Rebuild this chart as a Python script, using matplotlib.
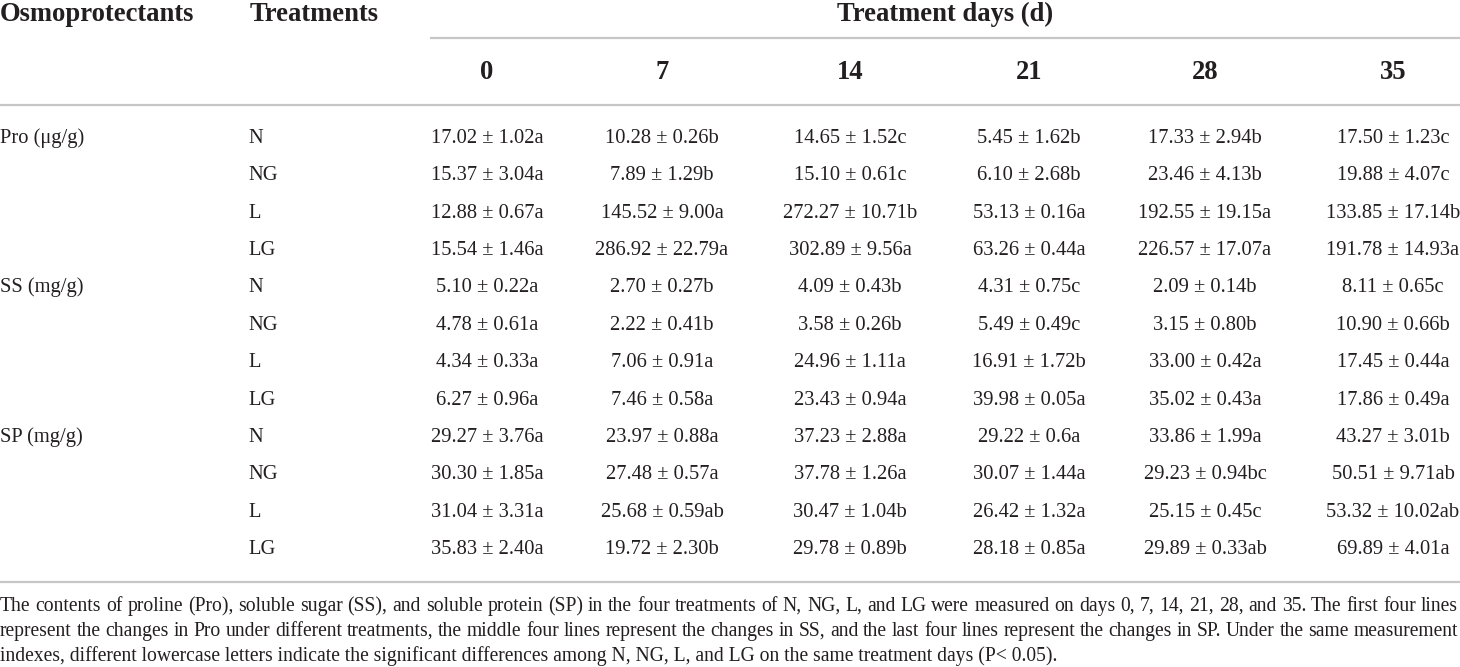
import matplotlib
matplotlib.use("Agg")
import matplotlib.pyplot as plt

# table content
osmoprotectants = ["Pro (μg/g)", "SS (mg/g)", "SP (mg/g)"]
treatments = ["N", "NG", "L", "LG"]
days = ["0", "7", "14", "21", "28", "35"]

pro_rows = [
    ["17.02 ± 1.02a", "10.28 ± 0.26b", "14.65 ± 1.52c", "5.45 ± 1.62b", "17.33 ± 2.94b", "17.50 ± 1.23c"],
    ["15.37 ± 3.04a", "7.89 ± 1.29b", "15.10 ± 0.61c", "6.10 ± 2.68b", "23.46 ± 4.13b", "19.88 ± 4.07c"],
    ["12.88 ± 0.67a", "145.52 ± 9.00a", "272.27 ± 10.71b", "53.13 ± 0.16a", "192.55 ± 19.15a", "133.85 ± 17.14b"],
    ["15.54 ± 1.46a", "286.92 ± 22.79a", "302.89 ± 9.56a", "63.26 ± 0.44a", "226.57 ± 17.07a", "191.78 ± 14.93a"],
]
ss_rows = [
    ["5.10 ± 0.22a", "2.70 ± 0.27b", "4.09 ± 0.43b", "4.31 ± 0.75c", "2.09 ± 0.14b", "8.11 ± 0.65c"],
    ["4.78 ± 0.61a", "2.22 ± 0.41b", "3.58 ± 0.26b", "5.49 ± 0.49c", "3.15 ± 0.80b", "10.90 ± 0.66b"],
    ["4.34 ± 0.33a", "7.06 ± 0.91a", "24.96 ± 1.11a", "16.91 ± 1.72b", "33.00 ± 0.42a", "17.45 ± 0.44a"],
    ["6.27 ± 0.96a", "7.46 ± 0.58a", "23.43 ± 0.94a", "39.98 ± 0.05a", "35.02 ± 0.43a", "17.86 ± 0.49a"],
]
sp_rows = [
    ["29.27 ± 3.76a", "23.97 ± 0.88a", "37.23 ± 2.88a", "29.22 ± 0.6a", "33.86 ± 1.99a", "43.27 ± 3.01b"],
    ["30.30 ± 1.85a", "27.48 ± 0.57a", "37.78 ± 1.26a", "30.07 ± 1.44a", "29.23 ± 0.94bc", "50.51 ± 9.71ab"],
    ["31.04 ± 3.31a", "25.68 ± 0.59ab", "30.47 ± 1.04b", "26.42 ± 1.32a", "25.15 ± 0.45c", "53.32 ± 10.02ab"],
    ["35.83 ± 2.40a", "19.72 ± 2.30b", "29.78 ± 0.89b", "28.18 ± 0.85a", "29.89 ± 0.33ab", "69.89 ± 4.01a"],
]

footnote = [
    "The contents of proline (Pro), soluble sugar (SS), and soluble protein (SP) in the four treatments of N, NG, L, and LG were measured on days 0, 7, 14, 21, 28, and 35. The first four lines",
    "represent the changes in Pro under different treatments, the middle four lines represent the changes in SS, and the last four lines represent the changes in SP. Under the same measurement",
    "indexes, different lowercase letters indicate the significant differences among N, NG, L, and LG on the same treatment days (P< 0.05).",
]

W, H = 1460, 667
plt.rcParams['font.family'] = ['Liberation Serif', 'DejaVu Serif']
ink = '#231f20'
rule = '#c6c6c6'

fig = plt.figure(figsize=(W / 100, H / 100), dpi=100)
ax = fig.add_axes([0, 0, 1, 1])
ax.set_xlim(0, W)
ax.set_ylim(H, 0)
ax.axis('off')

col_x = [487, 662, 850, 1029, 1205, 1393]
hdr_size, cell_size, note_size = 19.2, 14.8, 14.1

# header
hdr = dict(fontsize=hdr_size, fontweight='bold', color=ink, va='baseline')
ax.text(0, 21, "Osmoprotectants", ha='left', **hdr)
ax.text(250, 21, "Treatments", ha='left', **hdr)
ax.text(945, 21, "Treatment days (d)", ha='center', **hdr)
for x, d in zip(col_x, days):
    ax.text(x, 79, d, ha='center', **hdr)

ax.plot([430, W], [38, 38], color=rule, lw=1.6, solid_capstyle='butt')
ax.plot([0, W], [105, 105], color=rule, lw=1.6, solid_capstyle='butt')
ax.plot([0, W], [582, 582], color=rule, lw=1.6, solid_capstyle='butt')

# body
cell = dict(fontsize=cell_size, color=ink, va='baseline')
row_y0, row_dy = 143, 37.36
groups = [pro_rows, ss_rows, sp_rows]
r = 0
for name, rows in zip(osmoprotectants, groups):
    ax.text(0, row_y0 + r * row_dy, name, ha='left', **cell)
    for trt, vals in zip(treatments, rows):
        y = row_y0 + r * row_dy
        ax.text(248, y, trt, ha='left', **cell)
        for x, v in zip(col_x, vals):
            ax.text(x, y, v, ha='center', **cell)
        r += 1

# footnote, first two lines justified
note = dict(fontsize=note_size, color=ink, va='baseline', ha='left')
renderer = fig.canvas.get_renderer()
note_y = [611, 636, 661]
for i, (line, y) in enumerate(zip(footnote, note_y)):
    if i == len(footnote) - 1:
        ax.text(0, y, line, **note)
        continue
    words = line.split(' ')
    arts = [ax.text(0, y, w, **note) for w in words]
    widths = [a.get_window_extent(renderer).width for a in arts]
    gap = (W - 2 - sum(widths)) / (len(words) - 1)
    x = 0
    for a, w in zip(arts, widths):
        a.set_x(x)
        x += w + gap

fig.savefig("out.png", dpi=100)
